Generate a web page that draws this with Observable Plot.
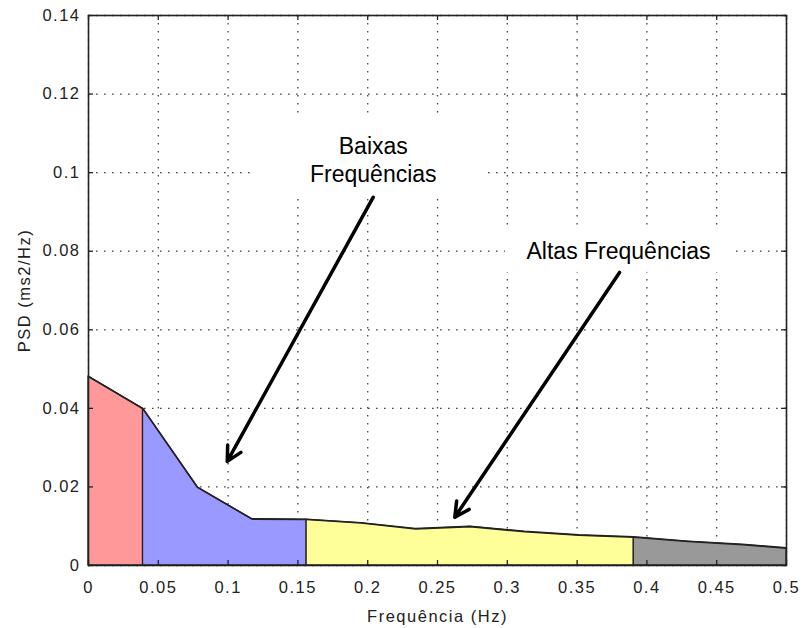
<!DOCTYPE html>
<html>
<head>
<meta charset="utf-8">
<script src="https://cdn.jsdelivr.net/npm/d3@7"></script>
<script src="https://cdn.jsdelivr.net/npm/@observablehq/plot@0.6"></script>
<style>
  html, body { margin: 0; padding: 0; background: #fff; }
  #chart svg [aria-label="x-axis tick label"] text,
  #chart svg [aria-label="y-axis tick label"] text,
  #chart svg [aria-label="x-axis label"] text,
  #chart svg [aria-label="y-axis label"] text { letter-spacing: 1.5px; }
</style>
</head>
<body>
<div id="chart"></div>
<script>
// Spectrum samples (frequency in Hz, PSD in ms2/Hz)
const freqs = [0, 0.0390625, 0.078125, 0.1171875, 0.15625, 0.1953125, 0.234375, 0.2734375, 0.3125, 0.3515625, 0.390625, 0.4296875, 0.46875, 0.5];
const psd   = [0.0481, 0.0399, 0.0199, 0.0118, 0.0117, 0.0108, 0.0093, 0.0099, 0.0086, 0.0077, 0.0072, 0.0061, 0.0053, 0.0044];

// Frequency bands
const bandNames  = ["VLF", "LF", "HF", "VHF"];
const bandLo     = [0, 0.0390625, 0.15625, 0.390625];
const bandHi     = [0.0390625, 0.15625, 0.390625, 0.5];
const bandColors = ["#ff9999", "#9999ff", "#ffff99", "#999999"];

// Axis ticks
const xTicks = [0, 0.05, 0.1, 0.15, 0.2, 0.25, 0.3, 0.35, 0.4, 0.45, 0.5];
const yTicks = [0, 0.02, 0.04, 0.06, 0.08, 0.1, 0.12, 0.14];

// Annotations
const annotTexts = ["Baixas\nFrequências", "Altas Frequências"];
const annotX     = [0.204, 0.3797];
const annotY     = [0.1035, 0.0802];
const boxX1      = [0.120, 0.2987];
const boxX2      = [0.2865, 0.4613];
const boxY1      = [0.0942, 0.0746];
const boxY2      = [0.1140, 0.0860];
const arrowX1    = [0.2039, 0.3804];
const arrowY1    = [0.0937, 0.0746];
const arrowX2    = [0.0994, 0.2624];
const arrowY2    = [0.0265, 0.0123];

const points = freqs.map((f, i) => ({f, p: psd[i]}));
const bands = bandNames.flatMap((name, b) =>
  points.filter(d => d.f >= bandLo[b] - 1e-9 && d.f <= bandHi[b] + 1e-9)
        .map(d => ({...d, band: name})));
const annots = annotTexts.map((t, i) => ({t, x: annotX[i], y: annotY[i]}));
const boxes = boxX1.map((x1, i) => ({x1, x2: boxX2[i], y1: boxY1[i], y2: boxY2[i]}));
const arrows = arrowX1.map((x1, i) => ({x1, y1: arrowY1[i], x2: arrowX2[i], y2: arrowY2[i]}));

const W = 801, H = 628, mL = 88, mR = 15, mT = 15, mB = 63;
const innerW = W - mL - mR, innerH = H - mT - mB;
const fmt = d3.format("~g");
const gridDash = "1.6,6.4";

const chart = Plot.plot({
  width: W, height: H,
  marginLeft: mL, marginRight: mR, marginTop: mT, marginBottom: mB,
  style: {fontFamily: "'Liberation Sans', Arial, sans-serif", fontSize: "16.5px", color: "#222", background: "#fff"},
  x: {domain: [0, 0.5]},
  y: {domain: [0, 0.14]},
  color: {domain: bandNames, range: bandColors},
  marks: [
    Plot.gridX(xTicks, {stroke: "#222", strokeOpacity: 0.85, strokeWidth: 1.3, strokeDasharray: gridDash}),
    Plot.gridY(yTicks, {stroke: "#222", strokeOpacity: 0.85, strokeWidth: 1.3, strokeDasharray: gridDash}),
    Plot.areaY(bands, {x: "f", y1: 0, y2: "p", z: "band", fill: "band", stroke: "#222", strokeWidth: 1.3, curve: "linear"}),
    Plot.line(points, {x: "f", y: "p", stroke: "#222", strokeWidth: 1.6}),
    Plot.rect(boxes, {x1: "x1", x2: "x2", y1: "y1", y2: "y2", fill: "white"}),
    Plot.text(annots, {x: "x", y: "y", text: "t", fontSize: 23, lineHeight: 1.23, fill: "#000", textAnchor: "middle", lineAnchor: "middle"}),
    Plot.arrow(arrows, {x1: "x1", y1: "y1", x2: "x2", y2: "y2", stroke: "#000", strokeWidth: 3.5, headLength: 7, headAngle: 55}),
    Plot.frame({stroke: "#222", strokeWidth: 1.6}),
    // inward tick marks
    Plot.tickX(xTicks, {x: d => d, stroke: "#222", strokeWidth: 1.3, insetTop: innerH - 5}),
    Plot.tickX(xTicks, {x: d => d, stroke: "#222", strokeWidth: 1.3, insetBottom: innerH - 5}),
    Plot.tickY(yTicks, {y: d => d, stroke: "#222", strokeWidth: 1.3, insetRight: innerW - 5}),
    Plot.tickY(yTicks, {y: d => d, stroke: "#222", strokeWidth: 1.3, insetLeft: innerW - 5}),
    Plot.axisX(xTicks, {tickSize: 0, tickPadding: 16, tickFormat: fmt, fill: "#222",
      label: "Frequência (Hz)", labelAnchor: "center", labelOffset: 56, labelArrow: "none"}),
    Plot.axisY(yTicks, {tickSize: 0, tickPadding: 8, tickFormat: fmt, fill: "#222",
      label: "PSD (ms2/Hz)", labelAnchor: "center", labelOffset: 70, labelArrow: "none"})
  ]
});
document.getElementById("chart").appendChild(chart);
</script>
</body>
</html>
